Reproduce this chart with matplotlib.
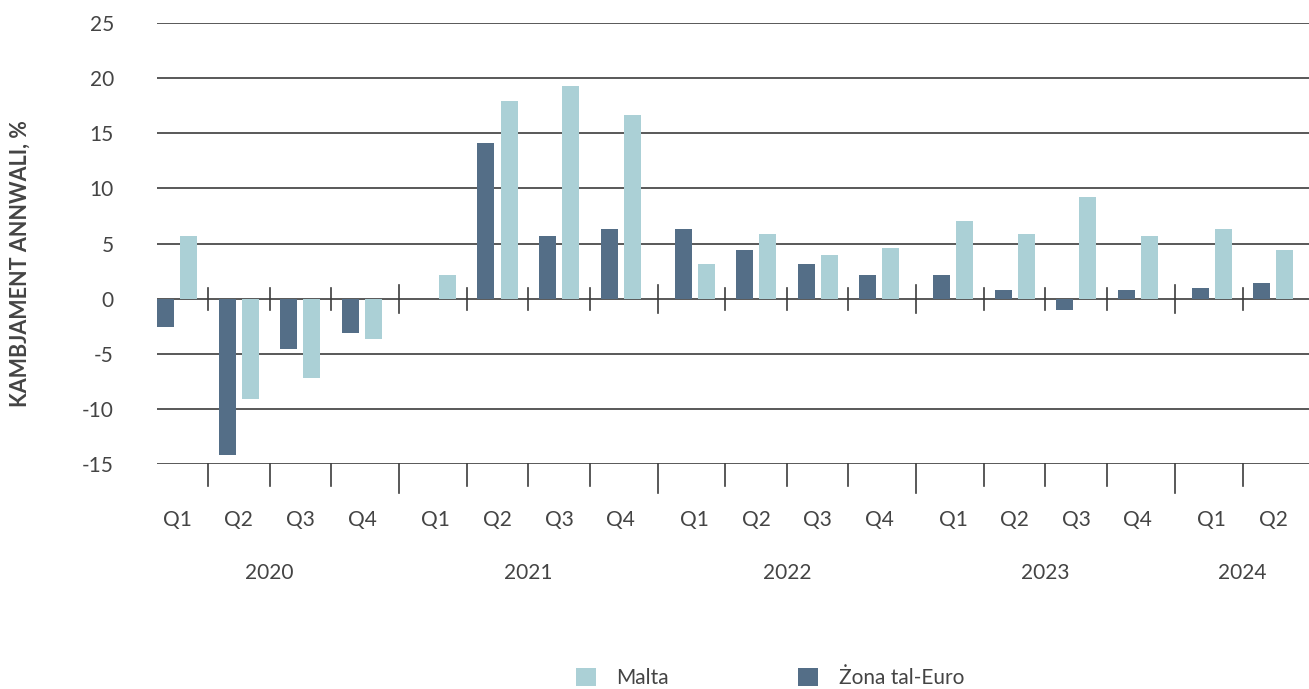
import matplotlib
matplotlib.use("Agg")
import matplotlib.pyplot as plt
import numpy as np

YEARS = ["2020", "2021", "2022", "2023", "2024"]
QUARTERS_PER_YEAR = [4, 4, 4, 4, 2]
QUARTER_LABELS = ["Q1", "Q2", "Q3", "Q4",
                  "Q1", "Q2", "Q3", "Q4",
                  "Q1", "Q2", "Q3", "Q4",
                  "Q1", "Q2", "Q3", "Q4",
                  "Q1", "Q2"]

# annual change, %
EURO_AREA = [-2.6, -14.2, -4.6, -3.1,
             0.0, 14.1, 5.7, 6.3,
             6.3, 4.4, 3.1, 2.1,
             2.1, 0.8, -1.0, 0.8,
             1.0, 1.4]
MALTA = [5.7, -9.1, -7.2, -3.7,
         2.1, 17.9, 19.3, 16.7,
         3.1, 5.9, 4.0, 4.6,
         7.0, 5.9, 9.2, 5.7,
         6.3, 4.4]

C_MALTA = "#abd0d6"
C_EURO = "#546e87"
C_TEXT = "#444444"
C_GRID = "#3c3c3c"

plt.rcParams["font.family"] = ["Lato", "DejaVu Sans"]

YEAR_GAP = 0.2
WIDTH = 0.276
OFF = 0.187
FS = 15


def main():
    year_idx = np.repeat(np.arange(len(YEARS)), QUARTERS_PER_YEAR)
    x = np.arange(len(QUARTER_LABELS)) + YEAR_GAP * year_idx

    fig = plt.figure(figsize=(13.09, 6.89), dpi=100)
    ax = fig.add_axes([157 / 1309, 1 - 464 / 689, 1 - 157 / 1309, 441 / 689])

    ax.set_ylim(-15, 25)
    ax.set_xlim(x[0] - 0.33, x[-1] + 0.58)
    ax.set_yticks(np.arange(-15, 26, 5))
    ax.set_yticklabels([str(v) for v in range(-15, 26, 5)], fontsize=FS, color=C_TEXT)
    ax.set_xticks([])
    ax.tick_params(axis="y", length=0, pad=31)
    for s in ax.spines.values():
        s.set_visible(False)
    ax.grid(True, axis="y", color=C_GRID, linewidth=1.2, zorder=0)
    ax.set_axisbelow(True)

    ax.bar(x - OFF, EURO_AREA, width=WIDTH, color=C_EURO, zorder=3, label="Żona tal-Euro")
    ax.bar(x + OFF, MALTA, width=WIDTH, color=C_MALTA, zorder=3, label="Malta")

    # separators between quarters, longer between years
    for i in range(len(x) - 1):
        mid = (x[i] + x[i + 1]) / 2
        new_year = year_idx[i] != year_idx[i + 1]
        top, low = (1.2, -1.3) if new_year else (1.0, -1.0)
        bottom = -17.6 if new_year else -17.0
        ax.plot([mid, mid], [low, top], color=C_GRID, linewidth=1.2, zorder=4)
        ax.plot([mid, mid], [-15, bottom], color=C_GRID, linewidth=1.2, zorder=4, clip_on=False)

    for xi, q in zip(x, QUARTER_LABELS):
        ax.text(xi, -20.1, q, ha="center", va="center", fontsize=FS, color=C_TEXT, clip_on=False)
    for k, yr in enumerate(YEARS):
        xs = x[year_idx == k]
        ax.text(xs.mean(), -24.9, yr, ha="center", va="center", fontsize=FS, color=C_TEXT, clip_on=False)

    fig.text(20 / 1309, 1 - 264 / 689, "KAMBJAMENT ANNWALI, %", rotation=90,
             ha="center", va="center", fontsize=15.5, fontweight="bold", color=C_TEXT)

    handles, labels = ax.get_legend_handles_labels()
    leg = fig.legend(handles[::-1], labels[::-1], loc="center", ncol=2,
                     bbox_to_anchor=(770 / 1309, 1 - 678 / 689), frameon=False,
                     fontsize=FS, handlelength=0.96, handleheight=0.96,
                     handletextpad=1.0, columnspacing=6.2, borderpad=0)
    for t in leg.get_texts():
        t.set_color(C_TEXT)

    fig.savefig("out.png", dpi=100)


if __name__ == "__main__":
    main()
